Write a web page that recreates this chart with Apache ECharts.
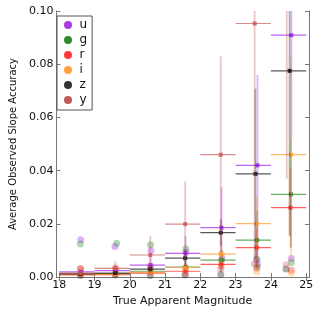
<!DOCTYPE html>
<html>
<head>
<meta charset="utf-8">
<script src="https://cdn.jsdelivr.net/npm/echarts@6/dist/echarts.min.js"></script>
<style>html,body{margin:0;padding:0;background:#fff}#c{width:322px;height:312px}</style>
</head>
<body>
<div id="c"></div>
<script>
// ---- data ----
const filters = ['u', 'g', 'r', 'i', 'z', 'y'];
const binLo = [18, 19, 20, 21, 22, 23, 24];
const binHi = [19, 20, 21, 22, 23, 24, 25];
const xTicks = [18, 19, 20, 21, 22, 23, 24, 25];
const yTicks = [0, 0.02, 0.04, 0.06, 0.08, 0.10];

// marker centres (mean magnitude in bin)
const u_x = [18.61, 19.60, 20.59, 21.58, 22.60, 23.62, 24.58];
const g_x = [18.61, 19.60, 20.59, 21.59, 22.60, 23.61, 24.57];
const r_x = [18.61, 19.60, 20.59, 21.58, 22.59, 23.60, 24.56];
const i_x = [18.61, 19.60, 20.59, 21.58, 22.59, 23.60, 24.57];
const z_x = [18.60, 19.59, 20.58, 21.57, 22.58, 23.56, 24.53];
const y_x = [18.60, 19.59, 20.58, 21.57, 22.58, 23.54, 24.45];

// mean slope accuracy
const u_y = [0.0020, 0.0024, 0.0045, 0.0089, 0.0186, 0.0420, 0.0909];
const g_y = [0.0012, 0.0013, 0.0022, 0.0038, 0.0064, 0.0139, 0.0311];
const r_y = [0.0008, 0.0009, 0.0015, 0.0022, 0.0048, 0.0111, 0.0261];
const i_y = [0.0010, 0.0011, 0.0018, 0.0036, 0.0086, 0.0201, 0.0460];
const z_y = [0.0012, 0.0015, 0.0030, 0.0071, 0.0167, 0.0388, 0.0775];
const y_y = [0.0015, 0.0033, 0.0083, 0.0199, 0.0460, 0.0953, 0.1150];

// y errors (down, up)
const u_lo = [0.0006, 0.0010, 0.0030, 0.0060, 0.0150, 0.0340, 0.0400];
const u_hi = [0.0006, 0.0010, 0.0030, 0.0066, 0.0152, 0.0340, 0.0400];
const g_lo = [0.0004, 0.0005, 0.0010, 0.0020, 0.0040, 0.0110, 0.0200];
const g_hi = [0.0004, 0.0005, 0.0010, 0.0020, 0.0040, 0.0110, 0.0200];
const r_lo = [0.0003, 0.0004, 0.0008, 0.0012, 0.0030, 0.0070, 0.0150];
const r_hi = [0.0003, 0.0004, 0.0008, 0.0012, 0.0030, 0.0070, 0.0150];
const i_lo = [0.0004, 0.0005, 0.0010, 0.0020, 0.0050, 0.0100, 0.0400];
const i_hi = [0.0004, 0.0005, 0.0010, 0.0020, 0.0050, 0.0100, 0.0370];
const z_lo = [0.0005, 0.0006, 0.0015, 0.0030, 0.0050, 0.0320, 0.0620];
const z_hi = [0.0005, 0.0006, 0.0015, 0.0030, 0.0050, 0.0320, 0.0620];
const y_lo = [0.0008, 0.0020, 0.0060, 0.0160, 0.0370, 0.0900, 0.0780];
const y_hi = [0.0008, 0.0027, 0.0071, 0.0161, 0.0370, 0.0600, 0.0780];

// faint individual points
const u_dx = [18.61, 19.58, 20.60, 21.59, 22.61, 23.62, 24.58];
const u_dy = [0.0140, 0.0115, 0.0099, 0.0093, 0.0072, 0.0050, 0.0070];
const g_dx = [18.60, 19.63, 20.59, 21.59, 22.60, 23.61, 24.58];
const g_dy = [0.0124, 0.0127, 0.0122, 0.0107, 0.0062, 0.0040, 0.0055];
const r_dx = [18.61, 19.60, 20.59, 21.58, 22.59, 23.60, 24.58];
const r_dy = [0.0030, 0.0030, 0.0035, 0.0035, 0.0042, 0.0033, 0.0026];
const i_dx = [18.61, 19.60, 20.59, 21.58, 22.60, 23.60, 24.58];
const i_dy = [0.0025, 0.0020, 0.0025, 0.0030, 0.0088, 0.0020, 0.0015];
const z_dx = [18.60, 19.59, 20.58, 21.57, 22.58, 23.60, 24.43];
const z_dy = [0.0006, 0.0008, 0.0006, 0.0008, 0.0010, 0.0067, 0.0030];
const y_dx = [18.60, 19.59, 20.58, 21.57, 22.58, 23.53, 24.43];
const y_dy = [0.0032, 0.0035, 0.0042, 0.0012, 0.0030, 0.0049, 0.0046];

const colors = { u: '#a020f0', g: '#228b22', r: '#ff2020', i: '#ff9a2a', z: '#111111', y: '#c85a5a' };
const legendColors = { u: '#a83ce0', g: '#2e8b2e', r: '#ff3a3a', i: '#ffa040', z: '#333333', y: '#c05858' };

const src = {
  u: [u_x, u_y, u_lo, u_hi, u_dx, u_dy],
  g: [g_x, g_y, g_lo, g_hi, g_dx, g_dy],
  r: [r_x, r_y, r_lo, r_hi, r_dx, r_dy],
  i: [i_x, i_y, i_lo, i_hi, i_dx, i_dy],
  z: [z_x, z_y, z_lo, z_hi, z_dx, z_dy],
  y: [y_x, y_y, y_lo, y_hi, y_dx, y_dy]
};

const FONT = 'DejaVu Sans';
const chart = echarts.init(document.getElementById('c'), null, { renderer: 'canvas' });

const series = [];
// faint points first (beneath)
filters.forEach(f => {
  const s = src[f];
  series.push({
    name: f + '_pts',
    type: 'scatter',
    symbol: 'circle',
    symbolSize: 7,
    itemStyle: { color: colors[f], opacity: 0.35 },
    data: s[4].map((x, k) => [x, s[5][k]]),
    z: 1,
    silent: true
  });
});
filters.forEach(f => {
  const s = src[f];
  const col = colors[f];
  series.push({
    name: f,
    type: 'custom',
    clip: true,
    color: legendColors[f],
    itemStyle: { color: legendColors[f] },
    z: 2,
    data: s[0].map((x, k) => [x, s[1][k], binLo[k], binHi[k], s[2][k], s[3][k]]),
    renderItem: function (params, api) {
      const x = api.value(0), y = api.value(1);
      const p = api.coord([x, y]);
      const pl = api.coord([api.value(2), y]);
      const pr = api.coord([api.value(3), y]);
      const pb = api.coord([x, y - api.value(4)]);
      const pt = api.coord([x, y + api.value(5)]);
      return {
        type: 'group',
        children: [
          { type: 'line', shape: { x1: pb[0], y1: pb[1], x2: pt[0], y2: pt[1] },
            style: { stroke: col, lineWidth: 1.8, opacity: 0.35 } },
          { type: 'line', shape: { x1: pl[0], y1: pl[1], x2: pr[0], y2: pr[1] },
            style: { stroke: col, lineWidth: 1.2, opacity: 0.7 } },
          { type: 'rect', shape: { x: p[0] - 2, y: p[1] - 2, width: 4, height: 4 },
            style: { fill: col, opacity: 0.85 } }
        ]
      };
    }
  });
});

const axisLineStyle = { color: '#777', width: 1 };
chart.setOption({
  animation: false,
  backgroundColor: '#fff',
  grid: { left: 51, top: 11, width: 258, height: 267 },
  legend: {
    orient: 'vertical',
    left: 57, top: 16,
    padding: [3, 5, 4, 7],
    itemGap: 3,
    itemWidth: 13, itemHeight: 8,
    icon: 'circle',
    borderColor: '#555', borderWidth: 1,
    textStyle: { fontFamily: FONT, fontSize: 12, color: '#111' },
    data: filters
  },
  xAxis: [{
    type: 'value', min: 17.92, max: 25.08,
    name: 'True Apparent Magnitude', nameLocation: 'middle', nameGap: 14,
    nameTextStyle: { fontFamily: FONT, fontSize: 11, color: '#111' },
    axisLine: { lineStyle: axisLineStyle },
    axisTick: { inside: true, length: 4, lineStyle: axisLineStyle, customValues: xTicks },
    axisLabel: { margin: 3, fontFamily: FONT, fontSize: 11, color: '#111', customValues: xTicks },
    splitLine: { show: false }
  }, {
    type: 'value', min: 17.92, max: 25.08, position: 'top',
    axisLine: { lineStyle: axisLineStyle },
    axisTick: { inside: true, length: 4, lineStyle: axisLineStyle, customValues: xTicks },
    axisLabel: { show: false },
    splitLine: { show: false }
  }],
  yAxis: [{
    type: 'value', min: 0, max: 0.1, interval: 0.02,
    name: 'Average Observed Slope Accuracy', nameLocation: 'middle', nameGap: 32,
    nameTextStyle: { fontFamily: FONT, fontSize: 10, color: '#111' },
    axisLine: { show: true, lineStyle: axisLineStyle },
    axisTick: { show: true, inside: true, length: 4, lineStyle: axisLineStyle },
    axisLabel: { margin: 3, fontFamily: FONT, fontSize: 11, color: '#111',
      formatter: v => (Math.round(v * 100) / 100).toFixed(2) },
    splitLine: { show: false }
  }, {
    type: 'value', min: 0, max: 0.1, interval: 0.02, position: 'right',
    axisLine: { show: true, lineStyle: axisLineStyle },
    axisTick: { show: true, inside: true, length: 4, lineStyle: axisLineStyle },
    axisLabel: { show: false },
    splitLine: { show: false }
  }],
  series: series
});
</script>
</body>
</html>
